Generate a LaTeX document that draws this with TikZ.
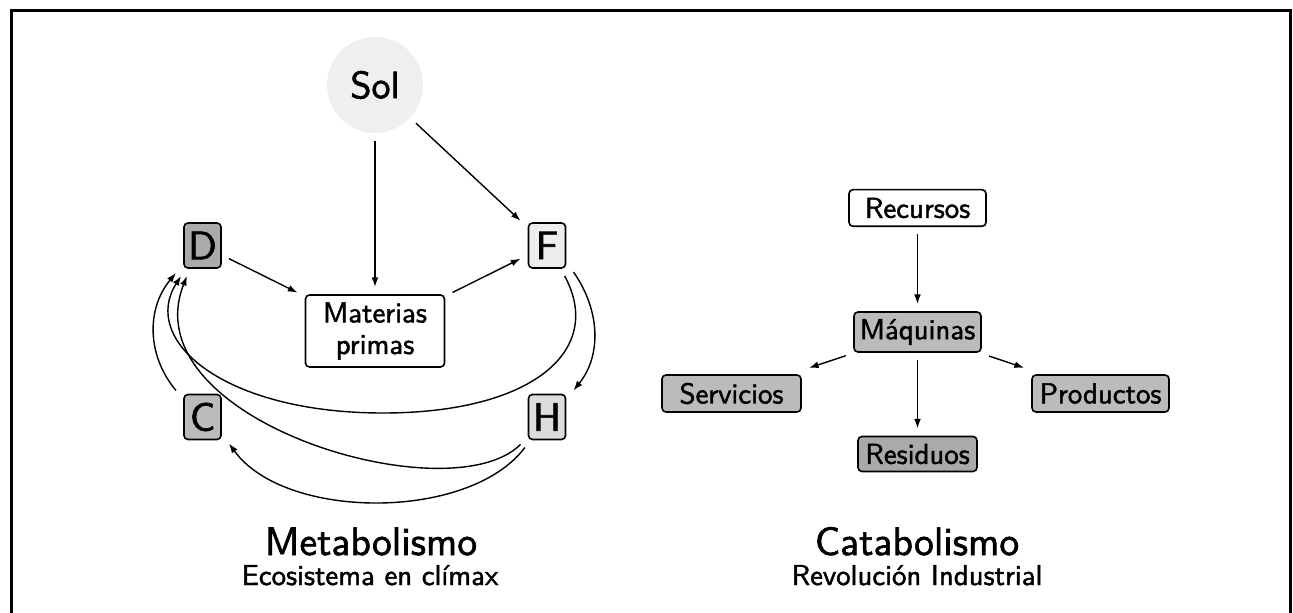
\documentclass[tikz,border=0pt]{standalone}
\usepackage{fontspec}
\usetikzlibrary{arrows.meta}
\newfontfamily\lmsx{lmsans10-regular.otf}[FakeBold=1.6]
\definecolor{cSol}{HTML}{EFEFEF}
\definecolor{cD}{HTML}{AAAAAA}
\definecolor{cC}{HTML}{BBBBBB}
\definecolor{cF}{HTML}{EEEEEE}
\definecolor{cH}{HTML}{DDDDDD}
\definecolor{cMid}{HTML}{BBBBBB}
\definecolor{cDark}{HTML}{AAAAAA}
\newcommand{\bigtxt}[1]{{\fontsize{19.8}{23}\selectfont #1}}
\newcommand{\smtxt}[1]{{\fontsize{14.4}{16}\selectfont #1}}
\begin{document}
\begin{tikzpicture}[x=0.5pt,y=-0.5pt,
  font=\lmsx,
  every node/.style={outer sep=4pt},
  letterbox/.style={draw, line width=0.8pt, rounded corners=2pt, minimum width=18.5pt, minimum height=22.5pt, inner sep=0pt},
  wordbox/.style={draw, line width=0.8pt, rounded corners=2pt, inner sep=0pt},
  arr/.style={-{Latex[length=4.8pt,width=3.4pt]}, line width=0.7pt},
  title/.style={inner sep=0pt, anchor=base}
]
\useasboundingbox (0,0) rectangle (1293,613);
\draw[line width=1.5pt] (11,640) -- (11,11) -- (1290.5,11) -- (1290.5,640);

% Metabolismo
\node[circle, fill=cSol, minimum size=48pt, inner sep=0pt] (Sol) at (375,85) {{\fontsize{19}{22}\selectfont Sol}};
\node[letterbox, fill=cD] (D) at (202.5,245.5) {\bigtxt{D}};
\node[letterbox, fill=cF] (F) at (547,245.5) {\bigtxt{F}};
\node[letterbox, fill=cC] (C) at (202.5,417) {\bigtxt{C}};
\node[letterbox, fill=cH] (H) at (547,417) {\bigtxt{H}};
\node[wordbox, fill=white, minimum width=69.5pt, minimum height=36pt, align=center, font=\lmsx\fontsize{14.4}{15.8}\selectfont] (Mat) at (375,331) {Materias\\primas};

\draw[arr] (Sol) -- (Mat);
\draw[arr] (Sol) -- (F);
\draw[arr] (D) -- (Mat);
\draw[arr] (Mat) -- (F);
\draw[arr] (F.-45) .. controls (600,310) and (602,355) .. (H.45);
\draw[arr] (C.135) .. controls (147,356) and (146,309) .. (D.226);
\draw[arr] (F.-60) .. controls (605,350) and (533,413) .. (383,413) .. controls (223,413) and (140,340) .. (D.235);
\draw[arr] (H.226) .. controls (450,515) and (130,420) .. (D.243);
\draw[arr] (H.234) .. controls (470,521) and (285,521) .. (C.-45);

\node[title] (t1) at (371,555) {\bigtxt{Metabolismo}};
\node[title] (s1) at (370,585) {\smtxt{Ecosistema en clímax}};

% Catabolismo
\node[wordbox, fill=white, minimum width=68.5pt, minimum height=18.3pt] (Rec) at (917.5,208) {\smtxt{Recursos}};
\node[wordbox, fill=cMid, minimum width=63.5pt, minimum height=20pt] (Maq) at (917.5,332) {\smtxt{Máquinas}};
\node[wordbox, fill=cMid, minimum width=69.5pt, minimum height=18.5pt] (Serv) at (731.5,393.5) {\smtxt{Servicios}};
\node[wordbox, fill=cMid, minimum width=68.5pt, minimum height=18.5pt] (Prod) at (1100.5,393.5) {\smtxt{Productos}};
\node[wordbox, fill=cDark, minimum width=59.5pt, minimum height=17.5pt] (Res) at (917.5,454) {\smtxt{Residuos}};

\draw[arr] (Rec) -- (Maq);
\draw[arr] (Maq) -- (Serv);
\draw[arr] (Maq) -- (Prod);
\draw[arr] (Maq) -- (Res);

\node[title] (t2) at (917,555) {\bigtxt{Catabolismo}};
\node[title] (s2) at (917,585) {\smtxt{Revolución Industrial}};
\end{tikzpicture}
\end{document}
